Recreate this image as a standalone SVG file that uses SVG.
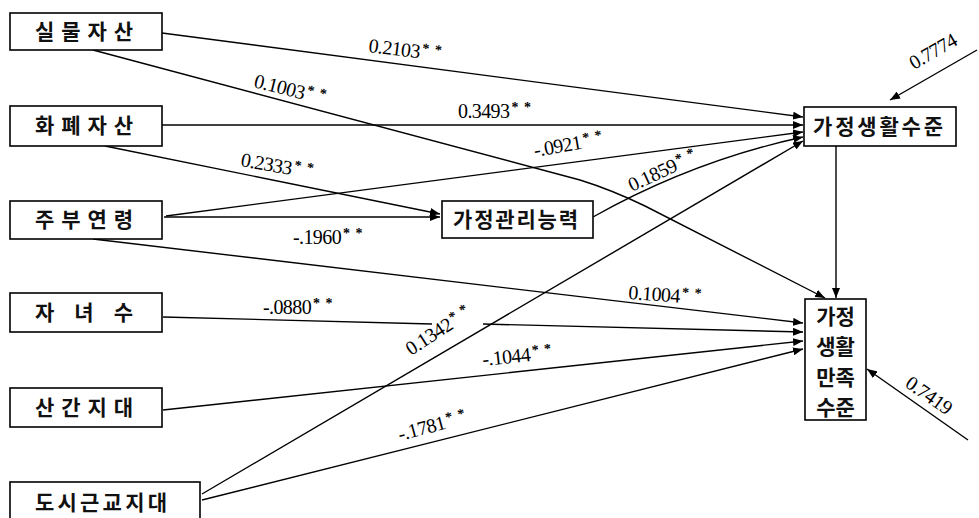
<svg xmlns="http://www.w3.org/2000/svg" width="979" height="518" viewBox="0 0 979 518">
<defs>
<marker id="arr" markerUnits="userSpaceOnUse" markerWidth="11" markerHeight="8" refX="10" refY="4" orient="auto">
<path d="M0,0 L10,4 L0,8 z" fill="#000"/>
</marker>
<style>
.box{fill:#fff;stroke:#000;stroke-width:1.6}
.kt{font-family:"Noto Sans CJK KR","Noto Sans",sans-serif;font-size:21px;font-weight:bold;fill:#111}
.ln{fill:none;stroke:#000;stroke-width:1.4;marker-end:url(#arr)}
.pl{fill:none;stroke:#000;stroke-width:1.4}
.lb{font-family:"Liberation Serif","Times New Roman",serif;font-size:20px;fill:#000;letter-spacing:-0.6px}
.st{font-size:14px;font-weight:bold;letter-spacing:1px}
</style>
</defs>
<rect width="979" height="518" fill="#fff"/>
<g id="connectors">
<path class="ln" d="M162,33 L803,117"/>
<path class="ln" d="M93,50 L580,180 Q612,190 645,206 L825,298"/>
<path class="ln" d="M162,125 L803,125"/>
<path class="ln" d="M105,146 L440,214"/>
<path class="ln" d="M166,216 L803,132"/>
<path class="ln" d="M164,217 L440,217"/>
<path class="ln" d="M593,217 C650,185 720,155 803,137"/>
<path class="ln" d="M202,494 L803,141"/>
<path class="ln" d="M93,239 L803,323"/>
<path class="pl" d="M163,317 L432,324"/>
<path class="ln" d="M483,324 L803,332"/>
<path class="ln" d="M163,410 L803,341"/>
<path class="ln" d="M202,500 L803,349"/>
<path class="ln" d="M836,146 L836,298"/>
<path class="ln" d="M977,50 L890,100"/>
<path class="ln" d="M968,440 L867,369"/>
</g>
<g id="labels">
<text class="lb" x="368" y="52" transform="rotate(7 368 52)">0.2103<tspan class="st" dx="2" dy="-6">* *</tspan></text>
<text class="lb" x="253" y="87" transform="rotate(14 253 87)">0.1003<tspan class="st" dx="2" dy="-6">* *</tspan></text>
<text class="lb" x="458" y="118">0.3493<tspan class="st" dx="2" dy="-6">* *</tspan></text>
<text class="lb" x="240" y="166" transform="rotate(10 240 166)">0.2333<tspan class="st" dx="2" dy="-6">* *</tspan></text>
<text class="lb" x="535" y="157" transform="rotate(-10 535 157)">-.0921<tspan class="st" dx="2" dy="-6">* *</tspan></text>
<text class="lb" x="632" y="192" transform="rotate(-25 632 192)">0.1859<tspan class="st" dx="2" dy="-6">* *</tspan></text>
<text class="lb" x="293" y="244">-.1960<tspan class="st" dx="2" dy="-6">* *</tspan></text>
<text class="lb" x="628" y="299" transform="rotate(4 628 299)">0.1004<tspan class="st" dx="2" dy="-6">* *</tspan></text>
<text class="lb" x="263" y="314">-.0880<tspan class="st" dx="2" dy="-6">* *</tspan></text>
<text class="lb" x="411" y="356" transform="rotate(-33 411 356)">0.1342<tspan class="st" dx="2" dy="-6">* *</tspan></text>
<text class="lb" x="483" y="366" transform="rotate(-6 483 366)">-.1044<tspan class="st" dx="2" dy="-6">* *</tspan></text>
<text class="lb" x="400" y="441" transform="rotate(-15 400 441)">-.1781<tspan class="st" dx="2" dy="-6">* *</tspan></text>
<text class="lb" x="914" y="70" transform="rotate(-30 914 70)">0.7774</text>
<text class="lb" x="904" y="386" transform="rotate(35 904 386)">0.7419</text>
</g>
<g id="n1"><rect class="box" x="10" y="13" width="152" height="37"/><text class="kt" x="35" y="39" textLength="98" lengthAdjust="spacing">실 물 자 산</text></g>
<g id="n2"><rect class="box" x="10" y="106" width="152" height="40"/><text class="kt" x="35" y="133" textLength="98" lengthAdjust="spacing">화 폐 자 산</text></g>
<g id="n3"><rect class="box" x="10" y="201" width="152" height="38"/><text class="kt" x="35" y="227" textLength="98" lengthAdjust="spacing">주 부 연 령</text></g>
<g id="n4"><rect class="box" x="10" y="293" width="152" height="39"/><text class="kt" x="35" y="320" textLength="98" lengthAdjust="spacing">자 녀 수</text></g>
<g id="n5"><rect class="box" x="10" y="388" width="152" height="39"/><text class="kt" x="35" y="415" textLength="98" lengthAdjust="spacing">산 간 지 대</text></g>
<g id="n6"><rect class="box" x="10" y="482" width="190" height="50"/><text class="kt" x="35" y="510" textLength="132" lengthAdjust="spacing">도시근교지대</text></g>
<g id="n7"><rect class="box" x="442" y="201" width="151" height="37"/><text class="kt" x="453" y="227" textLength="125" lengthAdjust="spacing">가정관리능력</text></g>
<g id="n8"><rect class="box" x="804" y="107" width="152" height="39"/><text class="kt" x="813" y="134" textLength="130" lengthAdjust="spacing">가정생활수준</text></g>
<g id="n9"><rect class="box" x="805" y="299" width="61" height="121"/>
<text class="kt" x="835.5" y="324" text-anchor="middle">가정</text>
<text class="kt" x="835.5" y="354" text-anchor="middle">생활</text>
<text class="kt" x="835.5" y="385" text-anchor="middle">만족</text>
<text class="kt" x="835.5" y="415" text-anchor="middle">수준</text></g>
</svg>
